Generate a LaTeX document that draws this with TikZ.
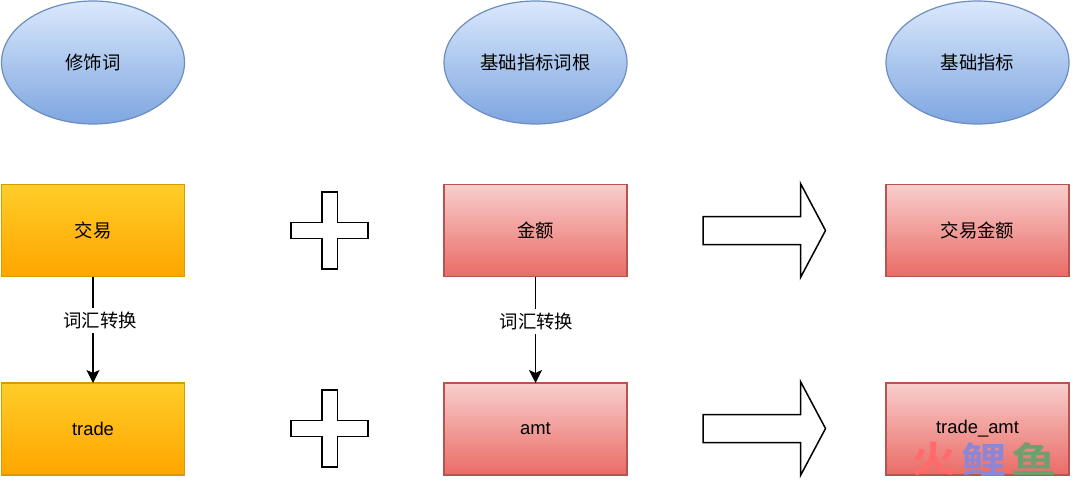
\documentclass[tikz,border=0pt]{standalone}
\usepackage{fontspec}
\setmainfont{Liberation Sans}
\newfontfamily\cjk{Noto Sans CJK SC}
\newfontfamily\cjkb{Noto Sans CJK SC Bold}
\usepackage{xcolor}
\usetikzlibrary{shapes.geometric,arrows.meta}
\definecolor{bluetop}{HTML}{DAE8FC}
\definecolor{bluebot}{HTML}{7EA6E0}
\definecolor{blueline}{HTML}{6C8EBF}
\definecolor{orangetop}{HTML}{FFCD28}
\definecolor{orangebot}{HTML}{FFA500}
\definecolor{orangeline}{HTML}{D79B00}
\definecolor{redtop}{HTML}{F8CECC}
\definecolor{redbot}{HTML}{EA6B66}
\definecolor{redline}{HTML}{B85450}
\definecolor{markred}{HTML}{FF6A6A}
\definecolor{markblue}{HTML}{8C86D8}
\definecolor{markgreen}{HTML}{6F9E6F}
\newcommand{\squash}[1]{\scalebox{1}[0.8]{#1}}
\tikzset{
  every node/.style={font=\cjk\fontsize{9.2}{11}\selectfont,text=black,inner sep=0pt,outer sep=0pt},
  termoval/.style={ellipse,draw=blueline,line width=0.6pt,top color=bluetop,bottom color=bluebot,minimum width=91.5pt,minimum height=61.5pt},
  orangebox/.style={rectangle,draw=orangeline,line width=0.6pt,top color=orangetop,bottom color=orangebot,minimum width=91.5pt,minimum height=46pt},
  redbox/.style={rectangle,draw=redline,line width=0.6pt,top color=redtop,bottom color=redbot,minimum width=91.5pt,minimum height=46pt},
  latin/.style={font=\rmfamily\fontsize{9.2}{11}\selectfont},
  convertlabel/.style={fill=white,inner ysep=2pt},
  convertline/.style={line width=0.7pt,-{Stealth[length=6.5pt,width=6.5pt,inset=1.5pt]}},
  bigsign/.style={draw=black,line width=0.75pt,fill=white},
  markchar/.style={font=\cjkb\fontsize{22.5}{23}\selectfont}
}
\begin{document}
\begin{tikzpicture}[x=0.5pt,y=-0.5pt]
        \useasboundingbox (0,0) rectangle (1080,482);
        % top row
        \node [termoval] (modifier) at (93,62.5) {修饰词};
        \node [termoval] (rootterm) at (535.5,62.5) {基础指标词根};
        \node [termoval] (basemetric) at (977.5,62.5) {基础指标};
        % chinese row
        \node [orangebox] (jiaoyi) at (93,230.5) {交易};
        \node [redbox] (jine) at (535.5,230.5) {金额};
        \node [redbox] (jiaoyijine) at (977.5,230.5) {交易金额};
        % english row
        \node [orangebox,latin] (trade) at (93,429) {trade};
        \node [redbox,latin] (amt) at (535.5,429) {amt};
        \node [redbox,latin] (tradeamt) at (977.5,429) {trade\_amt};
        % connectors
        \draw [convertline] (jiaoyi) -- (trade);
        \draw [convertline] (jine) -- (amt);
        \node [convertlabel] (convertleft) at (100,320.5) {词汇转换};
        \node [convertlabel] (convertright) at (536.5,321.5) {词汇转换};
        % plus signs and block arrows
        \foreach \rowy in {230.5,428.5} {
          \draw [bigsign] (291,\rowy-8) -- (322,\rowy-8) -- (322,\rowy-38.5) -- (337.5,\rowy-38.5) -- (337.5,\rowy-8)
            -- (368,\rowy-8) -- (368,\rowy+8) -- (337.5,\rowy+8) -- (337.5,\rowy+38.5) -- (322,\rowy+38.5)
            -- (322,\rowy+8) -- (291,\rowy+8) -- cycle;
          \draw [bigsign] (703,\rowy-14) -- (800.5,\rowy-14) -- (800.5,\rowy-47) -- (825.5,\rowy)
            -- (800.5,\rowy+47) -- (800.5,\rowy+14) -- (703,\rowy+14) -- cycle;
        }
        % watermark
        \node [markchar,text=markred] (markone) at (934,459) {\squash{火}};
        \node [markchar,text=markblue] (marktwo) at (984,459) {\squash{鲤}};
        \node [markchar,text=markgreen] (markthree) at (1034,459) {\squash{鱼}};
    \end{tikzpicture}
\end{document}
